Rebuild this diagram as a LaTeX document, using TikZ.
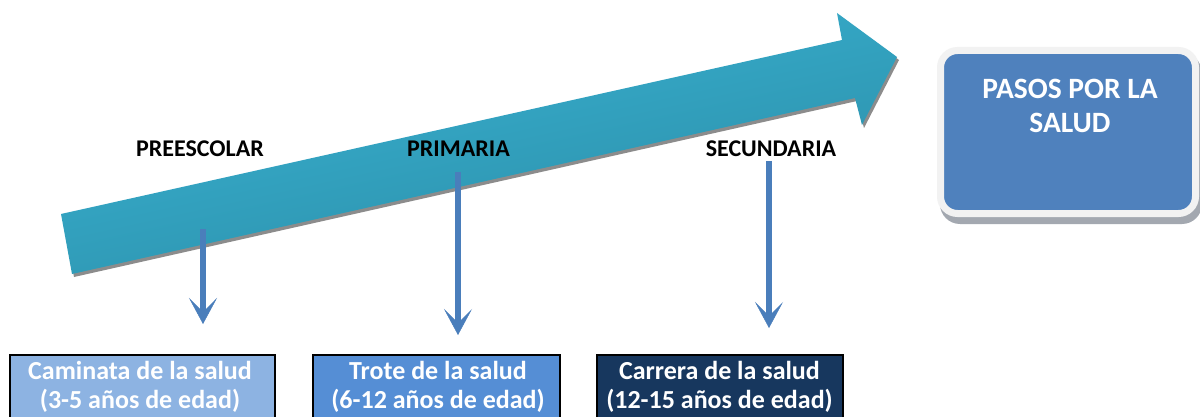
\documentclass[tikz,border=0pt]{standalone}
\usepackage{fontspec}
\setmainfont{Carlito}
\usetikzlibrary{arrows.meta}
\definecolor{arrowtop}{HTML}{3AB4D4}
\definecolor{arrowbot}{HTML}{2A8CA6}
\definecolor{conn}{HTML}{4A7EBB}
\definecolor{boxA}{HTML}{8DB3E2}
\definecolor{boxB}{HTML}{558ED5}
\definecolor{boxC}{HTML}{17375E}
\definecolor{mainblue}{HTML}{4F81BD}
\definecolor{rim}{HTML}{F2F2F2}
\definecolor{shadowgray}{HTML}{8C8C8C}
\definecolor{boxshadow}{HTML}{A3A8B0}
\tikzset{
  stagelabel/.style={font=\fontsize{24}{28}\selectfont\bfseries, anchor=base, inner sep=0pt, text=black},
  agebox/.style={draw=black, line width=2pt, anchor=north west, inner sep=0pt},
  agetext/.style={font=\fontsize{26}{29}\selectfont\bfseries, text=white, align=center, anchor=base, inner sep=0pt},
  downarrow/.style={draw=conn, line width=5.5pt, -{Stealth[length=26pt,width=28pt,inset=14pt,line width=0.5pt]}},
  goalbox/.style={draw=rim, line width=7pt, fill=mainblue, rounded corners=17pt, minimum width=255pt, minimum height=163pt, inner sep=0pt},
  goaltext/.style={font=\fontsize{29.5}{34}\selectfont\bfseries, text=white, align=center, anchor=base, inner sep=0pt},
}
\begin{document}
\begin{tikzpicture}[x=1pt,y=-1pt]
\clip (0,0) rectangle (1200,417);
\fill[white] (0,0) rectangle (1200,417);
% big arrow: shadow then shaded body
\fill[shadowgray] (63,217) -- (844,43) -- (839,16) -- (899,60) -- (864,128) -- (857,101) -- (74,277) -- cycle;
\shade[top color=arrowtop, bottom color=arrowbot, shading angle=12.4]
  (61,214) -- (842,40) -- (837,13) -- (897,57) -- (862,125) -- (855,98) -- (72,274) -- cycle;
% stage labels
\node[stagelabel] (pre) at (200,157) {PREESCOLAR};
\node[stagelabel] (pri) at (458.5,157) {PRIMARIA};
\node[stagelabel] (sec) at (771,157) {SECUNDARIA};
% connectors
\coordinate (s1) at (203,229);
\coordinate (e1) at (203,324);
\coordinate (s2) at (458,172);
\coordinate (e2) at (458,335);
\coordinate (s3) at (769,161);
\coordinate (e3) at (769,328);
\draw[downarrow] (s1) -- (e1);
\draw[downarrow] (s2) -- (e2);
\draw[downarrow] (s3) -- (e3);
% age boxes
\node[agebox, fill=boxA, minimum width=265pt, minimum height=80pt] (b1) at (9,354) {};
\node[agebox, fill=boxB, minimum width=247pt, minimum height=80pt] (b2) at (312,354) {};
\node[agebox, fill=boxC, minimum width=246pt, minimum height=80pt] (b3) at (596,354) {};
\node[agetext] (t1) at (140,408) {Caminata de la salud\\(3-5 años de edad)};
\node[agetext] (t2) at (438,408) {Trote de la salud\\(6-12 años de edad)};
\node[agetext] (t3) at (719.5,408) {Carrera de la salud\\(12-15 años de edad)};
% goal box
\fill[boxshadow, rounded corners=20pt] (940,53) rectangle (1202,224);
\node[goalbox] (goal) at (1068,132) {};
\node[goaltext] (gt) at (1070,133) {PASOS POR LA\\SALUD};
\end{tikzpicture}
\end{document}
